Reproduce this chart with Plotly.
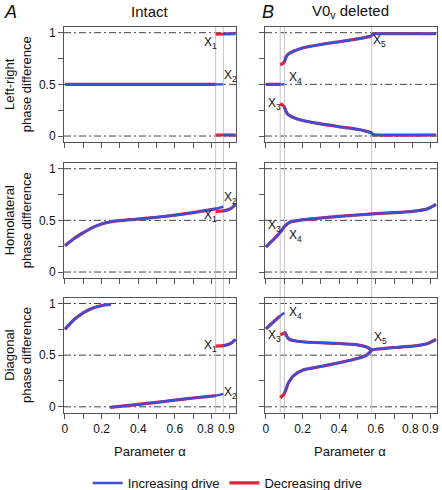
import plotly.graph_objects as go

# ---------------- data ----------------
X1, X2 = 0.822, 0.864          # intact transitions
X3, X4, X5 = 0.078, 0.101, 0.578  # V0v deleted transitions

# Intact: left-right
lr_int_mid_inc_x = [0.0, 0.864]; lr_int_mid_inc_y = [0.5, 0.5]
lr_int_mid_dec_x = [0.0, 0.822]; lr_int_mid_dec_y = [0.5, 0.5]
lr_int_hi_inc_x = [0.864, 0.93]; lr_int_hi_inc_y = [0.99, 0.99]
lr_int_lo_inc_x = [0.864, 0.93]; lr_int_lo_inc_y = [0.01, 0.01]
lr_int_hi_dec_x = [0.822, 0.93]; lr_int_hi_dec_y = [0.985, 0.99]
lr_int_lo_dec_x = [0.822, 0.93]; lr_int_lo_dec_y = [0.01, 0.01]

# Intact: homolateral
hl_int_a_x = [0, 0.05, 0.1, 0.15, 0.2, 0.25, 0.3, 0.4, 0.5, 0.6, 0.7, 0.8, 0.822, 0.864]
hl_int_a_y = [0.255, 0.325, 0.38, 0.43, 0.465, 0.487, 0.498, 0.513, 0.53, 0.55, 0.575, 0.605, 0.612, 0.632]
hl_int_b_x = [0.822, 0.864, 0.88, 0.9, 0.915, 0.93]
hl_int_b_y = [0.587, 0.592, 0.598, 0.61, 0.628, 0.655]

# Intact: diagonal
dg_int_hi_x = [0, 0.05, 0.1, 0.15, 0.2, 0.25]
dg_int_hi_y = [0.75, 0.845, 0.91, 0.955, 0.98, 0.99]
dg_int_lo_x = [0.245, 0.3, 0.4, 0.5, 0.6, 0.7, 0.8, 0.822, 0.864]
dg_int_lo_y = [-0.005, 0.005, 0.023, 0.043, 0.065, 0.085, 0.103, 0.108, 0.125]
dg_int_b_x = [0.822, 0.864, 0.88, 0.9, 0.915, 0.93]
dg_int_b_y = [0.587, 0.592, 0.598, 0.61, 0.628, 0.652]

# V0v deleted: left-right
lr_del_mid_inc_x = [0.0, 0.101]; lr_del_mid_inc_y = [0.5, 0.5]
lr_del_mid_dec_x = [0.0, 0.078]; lr_del_mid_dec_y = [0.5, 0.5]
lr_del_hi_x = [0.078, 0.09, 0.101, 0.106, 0.112, 0.12, 0.133, 0.15, 0.2, 0.3, 0.4, 0.5, 0.55, 0.575, 0.585, 0.6, 0.93]
lr_del_hi_y = [0.688, 0.70, 0.72, 0.745, 0.77, 0.79, 0.805, 0.82, 0.852, 0.886, 0.912, 0.94, 0.957, 0.97, 0.985, 0.99, 0.99]
lr_del_lo_y = [0.312, 0.30, 0.28, 0.255, 0.23, 0.21, 0.195, 0.18, 0.15, 0.117, 0.09, 0.065, 0.045, 0.032, 0.015, 0.01, 0.01]

# V0v deleted: homolateral
hl_del_x = [0, 0.05, 0.078, 0.101, 0.133, 0.2, 0.3, 0.4, 0.5, 0.6, 0.7, 0.8, 0.88, 0.93]
hl_del_y = [0.242, 0.33, 0.385, 0.44, 0.484, 0.506, 0.523, 0.539, 0.552, 0.565, 0.574, 0.587, 0.61, 0.655]

# V0v deleted: diagonal
dg_del_a_x = [0, 0.05, 0.078, 0.101]
dg_del_a_y = [0.755, 0.835, 0.88, 0.91]
dg_del_b_x = [0.078, 0.09, 0.101, 0.105, 0.112, 0.12, 0.133, 0.15, 0.2, 0.3, 0.4, 0.5, 0.55, 0.578]
dg_del_b_y = [0.70, 0.705, 0.715, 0.718, 0.69, 0.665, 0.65, 0.642, 0.63, 0.62, 0.613, 0.6, 0.58, 0.552]
dg_del_c_x = [0.078, 0.09, 0.101, 0.11, 0.12, 0.133, 0.15, 0.2, 0.3, 0.4, 0.5, 0.55, 0.578]
dg_del_c_y = [0.087, 0.105, 0.13, 0.17, 0.22, 0.26, 0.3, 0.355, 0.39, 0.427, 0.468, 0.5, 0.548]
dg_del_d_x = [0.578, 0.6, 0.7, 0.8, 0.88, 0.93]
dg_del_d_y = [0.552, 0.557, 0.574, 0.587, 0.61, 0.652]

x_tick_vals = [0, 0.1, 0.2, 0.3, 0.4, 0.5, 0.6, 0.7, 0.8, 0.9]
x_tick_text = ["0", "", "0.2", "", "0.4", "", "0.6", "", "", ""]
x_crowded_vals = [0.8, 0.9]
x_crowded_text = ["0.8", "0.9"]
x_crowded_nudge = [[-6, -3], [-2, 0]]   # per column: labels nudged apart as in the figure
y_tick_vals = [0, 0.25, 0.5, 0.75, 1]
y_tick_text = ["0", "", "0.5", "", "1"]
row_titles = ["Left-right<br>phase difference", "Homolateral<br>phase difference", "Diagonal<br>phase difference"]

# ---------------- style ----------------
W, H = 442, 490
BLUE = "#3a4fd6"
RED = "#e3223c"
FONT = "Liberation Sans, Arial, sans-serif"
FRAME = "#555555"

col_px = [(64, 236), (265, 436.7)]
row_px = [(26.7, 141.7), (162.7, 277.7), (297.5, 412.5)]
XR = [-0.005, 0.933]
YR = [-0.055, 1.058]


def px2x(p):
    return p / W


def px2y(p):
    return 1 - p / H


fig = go.Figure()

legend_done = {"inc": False, "dec": False}


def add(ax, xs, ys, kind):
    show = not legend_done[kind]
    legend_done[kind] = True
    fig.add_trace(go.Scatter(
        x=xs, y=ys, mode="lines",
        line=dict(color=BLUE if kind == "inc" else RED,
                  width=2.4 if kind == "inc" else 3.2,
                  shape="spline", smoothing=0.6),
        name="Increasing drive" if kind == "inc" else "Decreasing drive",
        legendrank=1 if kind == "inc" else 2,
        showlegend=show, hoverinfo="skip",
        xaxis="x" + ("" if ax == 1 else str(ax)),
        yaxis="y" + ("" if ax == 1 else str(ax)),
    ))


def add_pair(ax, dec_list, inc_list):
    for xs, ys in dec_list:
        add(ax, xs, ys, "dec")
    for xs, ys in inc_list:
        add(ax, xs, ys, "inc")


# axis numbering: row r, col c -> r*2 + c + 1
add_pair(1,
         [(lr_int_mid_dec_x, lr_int_mid_dec_y), (lr_int_hi_dec_x, lr_int_hi_dec_y), (lr_int_lo_dec_x, lr_int_lo_dec_y)],
         [(lr_int_mid_inc_x, lr_int_mid_inc_y), (lr_int_hi_inc_x, lr_int_hi_inc_y), (lr_int_lo_inc_x, lr_int_lo_inc_y)])
add_pair(2,
         [(lr_del_mid_dec_x, lr_del_mid_dec_y), (lr_del_hi_x, lr_del_hi_y), (lr_del_hi_x, lr_del_lo_y)],
         [(lr_del_mid_inc_x, lr_del_mid_inc_y), (lr_del_hi_x[2:], lr_del_hi_y[2:]), (lr_del_hi_x[2:], lr_del_lo_y[2:])])
add_pair(3,
         [(hl_int_a_x[:13], hl_int_a_y[:13]), (hl_int_b_x, hl_int_b_y)],
         [(hl_int_a_x, hl_int_a_y), (hl_int_b_x[1:], hl_int_b_y[1:])])
add_pair(4, [(hl_del_x, hl_del_y)], [(hl_del_x, hl_del_y)])
add_pair(5,
         [(dg_int_hi_x, dg_int_hi_y), (dg_int_lo_x[:8], dg_int_lo_y[:8]), (dg_int_b_x, dg_int_b_y)],
         [(dg_int_hi_x, dg_int_hi_y), (dg_int_lo_x, dg_int_lo_y), (dg_int_b_x[1:], dg_int_b_y[1:])])
add_pair(6,
         [(dg_del_a_x[:3], dg_del_a_y[:3]), (dg_del_b_x, dg_del_b_y), (dg_del_c_x, dg_del_c_y), (dg_del_d_x, dg_del_d_y)],
         [(dg_del_a_x, dg_del_a_y), (dg_del_b_x[2:], dg_del_b_y[2:]), (dg_del_c_x[2:], dg_del_c_y[2:]), (dg_del_d_x, dg_del_d_y)])

layout = dict(
    width=W, height=H, margin=dict(l=0, r=0, t=0, b=0, autoexpand=False),
    paper_bgcolor="white", plot_bgcolor="white",
    font=dict(family=FONT, size=12, color="#111"),
    showlegend=True,
    legend=dict(orientation="h", x=0.515, xanchor="center", y=px2y(483), yanchor="middle",
                font=dict(size=13), itemwidth=30, bgcolor="rgba(0,0,0,0)"),
)

shapes = []
annotations = []
for r in range(3):
    for c in range(2):
        i = r * 2 + c + 1
        sfx = "" if i == 1 else str(i)
        x0, x1 = col_px[c]
        y0, y1 = row_px[r]
        layout["xaxis" + sfx] = dict(
            domain=[px2x(x0), px2x(x1)], range=XR, anchor="y" + sfx,
            tickvals=x_tick_vals, ticktext=x_tick_text if r == 2 else [""] * 10,
            tickangle=0, automargin=False,
            ticks="outside", ticklen=5, tickcolor=FRAME, showgrid=False, zeroline=False,
            showline=True, mirror=True, linecolor=FRAME, linewidth=1,
            tickfont=dict(size=12), fixedrange=True,
        )
        layout["yaxis" + sfx] = dict(
            domain=[px2y(y1), px2y(y0)], range=YR, anchor="x" + sfx,
            tickvals=y_tick_vals, ticktext=y_tick_text if c == 0 else [""] * 5,
            automargin=False,
            ticks="outside", ticklen=5, tickcolor=FRAME, showgrid=False, zeroline=False,
            showline=True, mirror=True, linecolor=FRAME, linewidth=1,
            tickfont=dict(size=12), fixedrange=True,
        )
        for v in [0, 0.5, 1]:
            shapes.append(dict(type="line", xref="x" + sfx + " domain", yref="y" + sfx,
                               x0=0, x1=1, y0=v, y1=v, layer="below",
                               line=dict(color="#444", width=1, dash="7px,3px,2px,3px")))
        if r == 2:
            for v, t, sh in zip(x_crowded_vals, x_crowded_text, x_crowded_nudge[c]):
                annotations.append(dict(text=t, xref="x" + sfx, yref="paper", x=v, xshift=sh,
                                        y=px2y(428.5), xanchor="center", yanchor="middle",
                                        font=dict(size=12)))

# vertical transition lines spanning all rows
for c, vals in [(0, [X1, X2]), (1, [X3, X4, X5])]:
    xref = "x" if c == 0 else "x2"
    for v in vals:
        shapes.append(dict(type="line", xref=xref, yref="paper", x0=v, x1=v,
                           y0=px2y(row_px[2][1]), y1=px2y(row_px[0][0]), layer="below",
                           line=dict(color="#c4c4c4", width=1)))

# row titles
for r, t in enumerate(row_titles):
    annotations.append(dict(text=t, x=px2x(18), y=px2y(sum(row_px[r]) / 2),
                            textangle=-90, font=dict(size=13),
                            xanchor="center", yanchor="middle"))

# column titles / panel letters
annotations += [
    dict(text="<i>A</i>", x=px2x(3), y=px2y(12), xanchor="left", font=dict(size=18)),
    dict(text="Intact", x=px2x(150), y=px2y(12), xanchor="center", font=dict(size=15)),
    dict(text="<i>B</i>", x=px2x(261), y=px2y(12), xanchor="left", font=dict(size=18)),
    dict(text="V0<sub>v</sub> deleted", x=px2x(350), y=px2y(12), xanchor="center", font=dict(size=15)),
    dict(text="Parameter α", x=px2x(150), y=px2y(451), xanchor="center", font=dict(size=13)),
    dict(text="Parameter α", x=px2x(350), y=px2y(451), xanchor="center", font=dict(size=13)),
]

# transition labels (left x, centre y of the X glyph)
x_labels = [
    ("X<sub>1</sub>", 203, 43), ("X<sub>2</sub>", 223, 76),
    ("X<sub>2</sub>", 223, 198), ("X<sub>1</sub>", 203, 216),
    ("X<sub>1</sub>", 202.5, 345.5), ("X<sub>2</sub>", 223, 393),
    ("X<sub>5</sub>", 372, 41), ("X<sub>4</sub>", 288, 78), ("X<sub>3</sub>", 266.5, 104),
    ("X<sub>3</sub>", 266.5, 226), ("X<sub>4</sub>", 288, 236),
    ("X<sub>4</sub>", 288, 313), ("X<sub>3</sub>", 266.5, 335.5), ("X<sub>5</sub>", 372.5, 338),
]
for t, xp, yp in x_labels:
    annotations.append(dict(text=t, x=px2x(xp), y=px2y(yp - 9), xanchor="left", yanchor="top",
                            font=dict(size=12)))

for a in annotations:
    a.setdefault("xref", "paper")
    a.setdefault("yref", "paper")
    a.setdefault("showarrow", False)
    a.setdefault("yanchor", "middle")
    a.setdefault("borderpad", 0)

layout["shapes"] = shapes
layout["annotations"] = annotations
fig.update_layout(**layout)

# the page's default body margin would push the 442x490 figure off the window
fig.write_html("out.html",
               config={"displayModeBar": False, "staticPlot": True},
               post_script="document.body.style.margin='0';document.body.style.overflow='hidden';")
